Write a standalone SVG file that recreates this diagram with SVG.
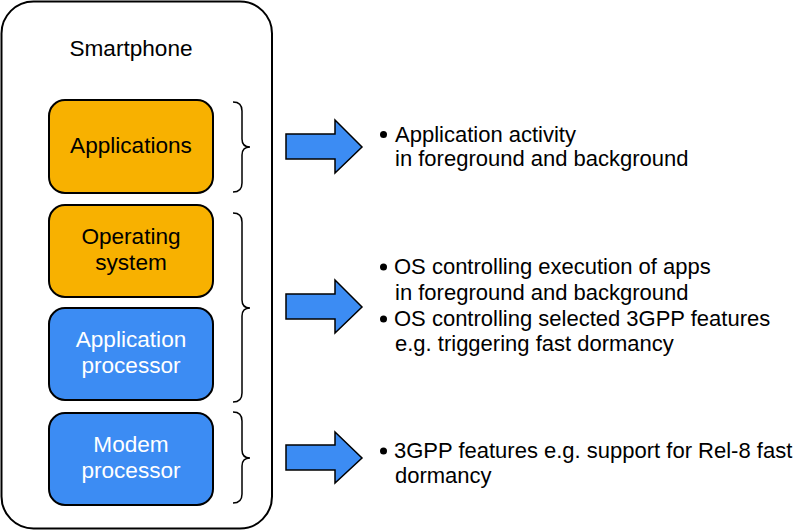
<svg xmlns="http://www.w3.org/2000/svg" width="800" height="531" viewBox="0 0 800 531">
<style>
text{font-family:"Liberation Sans",Arial,Helvetica,sans-serif;font-size:22px;fill:#000}
.c{text-anchor:middle;font-size:22.6px}
.w{fill:#fff}
.box{stroke:#000;stroke-width:2}
.or{fill:#F8B100}
.bl{fill:#3C8CF3}
.brace{fill:none;stroke:#000;stroke-width:1.5}
.arrow{fill:#3C8CF3;stroke:#000;stroke-width:1.5;stroke-linejoin:miter}
</style>
<rect width="800" height="531" fill="#fff"/>
<g id="smartphone">
<rect x="1.5" y="1.5" width="270.5" height="527" rx="32" fill="#fff" stroke="#000" stroke-width="2"/>
<text class="c" x="131" y="56">Smartphone</text>
</g>
<g id="applications">
<rect class="box or" x="49" y="100" width="164" height="93" rx="16"/>
<text class="c" x="131" y="153">Applications</text>
</g>
<g id="os">
<rect class="box or" x="49" y="205" width="164" height="92" rx="16"/>
<text class="c" x="131" y="244">Operating</text>
<text class="c" x="131" y="270">system</text>
</g>
<g id="appproc">
<rect class="box bl" x="49" y="308" width="164" height="92" rx="16"/>
<text class="c w" x="131" y="347">Application</text>
<text class="c w" x="131" y="373">processor</text>
</g>
<g id="modem">
<rect class="box bl" x="49" y="413" width="164" height="92" rx="16"/>
<text class="c w" x="131" y="452">Modem</text>
<text class="c w" x="131" y="478">processor</text>
</g>
<g id="connectors">
<path class="brace" d="M233,102 Q242,102 242,111 L242,139 Q242,147 250,147 Q242,147 242,155 L242,183 Q242,192 233,192"/>
<path class="brace" d="M233,213 Q242,213 242,222 L242,300 Q242,308 250,308 Q242,308 242,316 L242,393 Q242,402 233,402"/>
<path class="brace" d="M233,412 Q242,412 242,421 L242,450 Q242,458 250,458 Q242,458 242,466 L242,494 Q242,503 233,503"/>
<polygon class="arrow" points="286,134 335,134 335,120 362,147 335,173 335,159 286,159"/>
<polygon class="arrow" points="286,294 335,294 335,280 362,307 335,333 335,319 286,319"/>
<polygon class="arrow" points="286,445 335,445 335,432 362,458 335,483 335,470 286,470"/>
</g>
<g id="text1">
<circle cx="383.5" cy="134.5" r="3.5"/>
<text x="395" y="141.5">Application activity</text>
<text x="395" y="166">in foreground and background</text>
</g>
<g id="text2">
<circle cx="383.5" cy="267" r="3.5"/>
<text x="394" y="274">OS controlling execution of apps</text>
<text x="395" y="300">in foreground and background</text>
<circle cx="383.5" cy="319" r="3.5"/>
<text x="394" y="326">OS controlling selected 3GPP features</text>
<text x="395" y="351">e.g. triggering fast dormancy</text>
</g>
<g id="text3">
<circle cx="383.5" cy="451" r="3.5"/>
<text x="394" y="458">3GPP features e.g. support for Rel-8 fast</text>
<text x="395" y="483">dormancy</text>
</g>
</svg>
